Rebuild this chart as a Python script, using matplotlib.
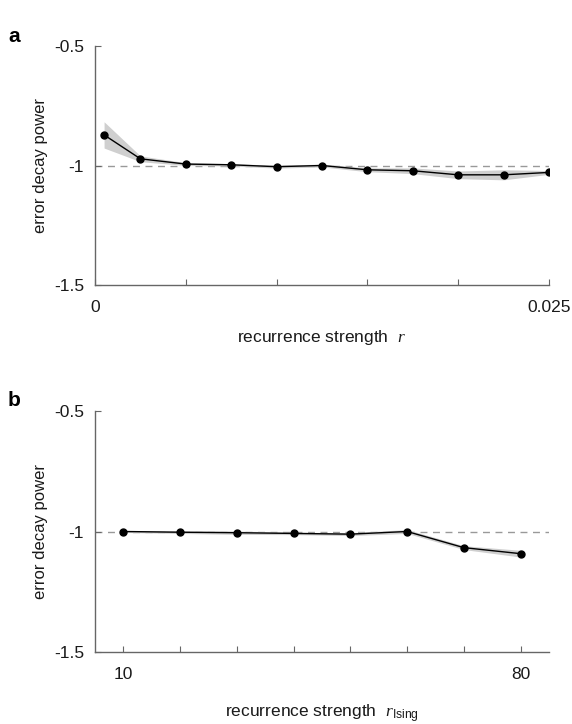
import numpy as np
import matplotlib
matplotlib.use('Agg')
import matplotlib.pyplot as plt

plt.rcParams['font.family'] = ['Liberation Sans', 'DejaVu Sans']
plt.rcParams['mathtext.fontset'] = 'custom'
plt.rcParams['mathtext.rm'] = 'Liberation Sans'
plt.rcParams['mathtext.it'] = 'Liberation Serif:italic'

# panel a data
r_a = [0.0005, 0.0025, 0.005, 0.0075, 0.01, 0.0125, 0.015, 0.0175, 0.02, 0.0225, 0.025]
pow_a = [-0.872, -0.972, -0.994, -0.997, -1.005, -1.0, -1.018, -1.022, -1.039, -1.039, -1.029]
err_a = [0.055, 0.012, 0.006, 0.005, 0.006, 0.006, 0.008, 0.012, 0.016, 0.021, 0.008]

# panel b data
r_b = [10, 20, 30, 40, 50, 60, 70, 80]
pow_b = [-1.0, -1.003, -1.005, -1.008, -1.011, -1.0, -1.067, -1.092]
err_b = [0.004, 0.005, 0.007, 0.005, 0.006, 0.008, 0.008, 0.014]

fig = plt.figure(figsize=(5.72, 7.24), dpi=100)
W, H = 572, 724
ax_a = fig.add_axes([95 / W, 1 - 285 / H, 454 / W, 239 / H])
ax_b = fig.add_axes([95 / W, 1 - 652 / H, 454 / W, 241 / H])

spine_col = '#666666'
txt_col = '#1a1a1a'

def style(ax):
    ax.spines['top'].set_visible(False)
    ax.spines['right'].set_visible(False)
    for s in ['left', 'bottom']:
        ax.spines[s].set_color(spine_col)
        ax.spines[s].set_linewidth(1.0)
    ax.tick_params(direction='in', length=4, color=spine_col, labelsize=12.5,
                   labelcolor=txt_col, pad=8)
    ax.tick_params(axis='x', pad=11)
    ax.set_ylim(-1.5, -0.5)
    ax.set_yticks([-1.5, -1, -0.5])
    ax.set_yticklabels(['-1.5', '-1', '-0.5'])
    ax.set_ylabel('error decay power', fontsize=12, color=txt_col, labelpad=4)
    ax.axhline(-1, color='#999999', lw=1.0, ls=(0, (5, 4)), zorder=1)

# panel a
style(ax_a)
xa = np.array(r_a)
ya = np.array(pow_a)
ea = np.array(err_a)
ax_a.fill_between(xa, ya - ea, ya + ea, color='#cfcfcf', lw=0, zorder=2)
ax_a.plot(xa, ya, color='black', lw=1.0, marker='o', ms=5, zorder=3)
ax_a.set_xlim(0, 0.025)
ax_a.set_xticks([0, 0.005, 0.01, 0.015, 0.02, 0.025])
ax_a.set_xticklabels(['0', '', '', '', '', '0.025'])
ax_a.set_xlabel(r'recurrence strength  $r$', fontsize=12.5, color=txt_col, labelpad=9)

# panel b
style(ax_b)
xb = np.array(r_b)
yb = np.array(pow_b)
eb = np.array(err_b)
ax_b.fill_between(xb, yb - eb, yb + eb, color='#cfcfcf', lw=0, zorder=2)
ax_b.plot(xb, yb, color='black', lw=1.0, marker='o', ms=5, zorder=3)
ax_b.set_xlim(5, 85)
ax_b.set_xticks(r_b)
ax_b.set_xticklabels(['10', '', '', '', '', '', '', '80'])
ax_b.set_xlabel(r'recurrence strength  $r_{\mathrm{Ising}}$', fontsize=12.5,
                color=txt_col, labelpad=15)

fig.text(8 / W, 1 - 42 / H, 'a', fontsize=15, fontweight='bold')
fig.text(8 / W, 1 - 406 / H, 'b', fontsize=15, fontweight='bold')

fig.savefig('out.png', dpi=100)
